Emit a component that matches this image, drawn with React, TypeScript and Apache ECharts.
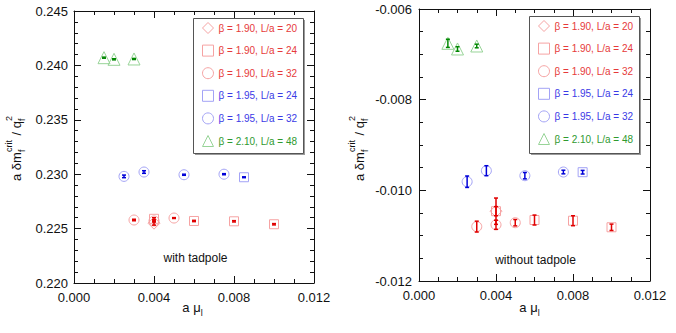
import React, { useEffect, useRef } from "react";
import * as echarts from "echarts";

// ---------- data ----------
const seriesNames = [
  "β = 1.90, L/a = 20",
  "β = 1.90, L/a = 24",
  "β = 1.90, L/a = 32",
  "β = 1.95, L/a = 24",
  "β = 1.95, L/a = 32",
  "β = 2.10, L/a = 48",
];
const xTicks = [0, 0.004, 0.008, 0.012];

// with tadpole (left panel): [a mu_l, value, error]
const tadB190L20 = [[0.004, 0.2255, 0.00018]];
const tadB190L24 = [
  [0.004, 0.2259, 0.0001],
  [0.006, 0.2257, 0.00006],
  [0.008, 0.22567, 0.00006],
  [0.010, 0.2254, 0.00006],
];
const tadB190L32 = [
  [0.003, 0.22579, 0.00007],
  [0.004, 0.2257, 0.0001],
  [0.005, 0.22597, 0.00004],
];
const tadB195L24 = [[0.0085, 0.22972, 0.00004]];
const tadB195L32 = [
  [0.0025, 0.2298, 0.00012],
  [0.0035, 0.2302, 0.00012],
  [0.0055, 0.22995, 0.00005],
  [0.0075, 0.23, 0.00005],
];
const tadB210L48 = [
  [0.0015, 0.24071, 0.00005],
  [0.002, 0.24056, 0.00005],
  [0.003, 0.24059, 0.00005],
];

// without tadpole (right panel)
const noB190L20 = [[0.004, -0.01046, 0.00029]];
const noB190L24 = [
  [0.004, -0.01046, 0.0001],
  [0.006, -0.010655, 0.00011],
  [0.008, -0.01067, 0.00011],
  [0.010, -0.010815, 0.00007],
];
const noB190L32 = [
  [0.003, -0.0108, 0.00012],
  [0.004, -0.01076, 0.0001],
  [0.005, -0.010714, 0.00007],
];
const noB195L24 = [[0.0085, -0.0096, 0.00004]];
const noB195L32 = [
  [0.0025, -0.00981, 0.000126],
  [0.0035, -0.009567, 0.00011],
  [0.0055, -0.009677, 0.00007],
  [0.0075, -0.009596, 0.00004],
];
const noB210L48 = [
  [0.0015, -0.006757, 0.00009],
  [0.002, -0.006882, 0.00005],
  [0.003, -0.006816, 0.00004],
];

// ---------- styles ----------
const FONT = '"Liberation Sans", Arial, Helvetica, sans-serif';
const RED = { text: "#e63a3a", mark: "#f6a3a3", err: "#e00000" };
const BLUE = { text: "#3a3ae6", mark: "#a3a3f6", err: "#0000d8" };
const GREEN = { text: "#2f9a2f", mark: "#98d498", err: "#008800" };

const groups = [
  { name: seriesNames[0], symbol: "diamond", size: 12, c: RED },
  { name: seriesNames[1], symbol: "rect", size: 9, c: RED },
  { name: seriesNames[2], symbol: "circle", size: 10, c: RED },
  { name: seriesNames[3], symbol: "rect", size: 9, c: BLUE },
  { name: seriesNames[4], symbol: "circle", size: 10, c: BLUE },
  { name: seriesNames[5], symbol: "triangle", size: 12, c: GREEN },
];

const panels = [
  {
    data: [tadB190L20, tadB190L24, tadB190L32, tadB195L24, tadB195L32, tadB210L48],
    grid: { left: 74, top: 11, width: 240, height: 272 },
    y: { min: 0.22, max: 0.245, interval: 0.005, minorSplit: 5 },
    label: "with tadpole",
    labelPos: [195.5, 258],
    legend: { left: 193, top: 18, h: 135 },
    yTitle: [16, 148],
    xTitle: [193, 307],
  },
  {
    data: [noB190L20, noB190L24, noB190L32, noB195L24, noB195L32, noB210L48],
    grid: { left: 419, top: 9, width: 231, height: 272 },
    y: { min: -0.012, max: -0.006, interval: 0.002, minorSplit: 4 },
    label: "without tadpole",
    labelPos: [535.5, 260],
    legend: { left: 529, top: 16, h: 137 },
    yTitle: [359, 148],
    xTitle: [530, 307],
  },
];

let measureCtx: CanvasRenderingContext2D | null = null;
function measure(t: string, size: number) {
  if (!measureCtx) measureCtx = document.createElement("canvas").getContext("2d");
  if (!measureCtx) return t.length * size * 0.55;
  measureCtx.font = `${size}px ${FONT}`;
  return measureCtx.measureText(t).width;
}

type Seg = { t?: string; sup?: string; sub?: string };
function buildTitle(segs: Seg[], main: number, small: number, supDy: number, subDy: number) {
  const items: any[] = [];
  let w = 0;
  const txt = (text: string, x: number, y: number, size: number) => ({
    type: "text",
    x,
    y,
    style: { text, fontSize: size, fontFamily: FONT, fill: "#111", align: "left", verticalAlign: "middle" },
  });
  for (const s of segs) {
    if (s.t) {
      items.push(txt(s.t, w, 0, main));
      w += measure(s.t, main);
    } else {
      let ww = 0;
      if (s.sup) {
        items.push(txt(s.sup, w, supDy, small));
        ww = Math.max(ww, measure(s.sup, small));
      }
      if (s.sub) {
        items.push(txt(s.sub, w, subDy, small));
        ww = Math.max(ww, measure(s.sub, small));
      }
      w += ww + 1;
    }
  }
  for (const it of items) it.x -= w / 2;
  return items;
}

export default function App() {
  const ref = useRef<HTMLDivElement>(null);
  useEffect(() => {
    if (!ref.current) return;
    const chart = echarts.init(ref.current, null, { renderer: "svg" });

    const axisLine = { show: true, onZero: false, lineStyle: { color: "#111", width: 1 } };
    const tick = { show: true, inside: true, length: 7, lineStyle: { color: "#111" } };
    const xAxes: any[] = [];
    const yAxes: any[] = [];
    const grids: any[] = [];
    const series: any[] = [];
    const legends: any[] = [];
    const graphics: any[] = [];

    panels.forEach((p, pi) => {
      grids.push({ ...p.grid, containLabel: false });
      const xBase = {
        gridIndex: pi,
        type: "value",
        min: xTicks[0],
        max: xTicks[xTicks.length - 1],
        interval: xTicks[1] - xTicks[0],
        axisLine,
        axisTick: tick,
        minorTick: { show: true, splitNumber: 4, length: 4, lineStyle: { color: "#111" } },
        splitLine: { show: false },
        minorSplitLine: { show: false },
      };
      xAxes.push({
        ...xBase,
        position: "bottom",
        axisLabel: {
          show: true,
          margin: 8,
          fontSize: 13,
          fontFamily: FONT,
          color: "#111",
          formatter: (v: number) => v.toFixed(3),
        },
      });
      xAxes.push({ ...xBase, position: "top", axisLabel: { show: false } });
      const yBase = {
        gridIndex: pi,
        type: "value",
        min: p.y.min,
        max: p.y.max,
        interval: p.y.interval,
        axisLine,
        axisTick: tick,
        minorTick: { show: true, splitNumber: p.y.minorSplit, length: 4, lineStyle: { color: "#111" } },
        splitLine: { show: false },
        minorSplitLine: { show: false },
      };
      yAxes.push({
        ...yBase,
        position: "left",
        axisLabel: {
          show: true,
          margin: pi === 0 ? 6 : 7,
          fontSize: 13,
          fontFamily: FONT,
          color: "#111",
          formatter: (v: number) => v.toFixed(3),
        },
      });
      yAxes.push({ ...yBase, position: "right", axisLabel: { show: false } });

      groups.forEach((g, gi) => {
        const d = p.data[gi];
        series.push({
          type: "scatter",
          name: g.name,
          xAxisIndex: pi * 2,
          yAxisIndex: pi * 2,
          symbol: g.symbol,
          symbolSize: g.size,
          silent: true,
          z: 2,
          itemStyle: { color: "transparent", borderColor: g.c.mark, borderWidth: 1, opacity: 1 },
          emphasis: { disabled: true },
          data: d.map((r) => [r[0], r[1]]),
        });
        series.push({
          type: "custom",
          xAxisIndex: pi * 2,
          yAxisIndex: pi * 2,
          silent: true,
          z: 3,
          dimensions: ["x", "y", "e"],
          encode: { x: 0, y: 1 },
          data: d,
          renderItem: (_params: any, api: any) => {
            const x = api.value(0);
            const y = api.value(1);
            const e = api.value(2);
            const top = api.coord([x, y + e]);
            const bot = api.coord([x, y - e]);
            const cw = 2;
            const st = { stroke: g.c.err, lineWidth: 1.5 };
            return {
              type: "group",
              children: [
                { type: "line", shape: { x1: top[0], y1: top[1], x2: bot[0], y2: bot[1] }, style: st },
                { type: "line", shape: { x1: top[0] - cw, y1: top[1], x2: top[0] + cw, y2: top[1] }, style: st },
                { type: "line", shape: { x1: bot[0] - cw, y1: bot[1], x2: bot[0] + cw, y2: bot[1] }, style: st },
              ],
            };
          },
        });
      });

      legends.push({
        left: p.legend.left,
        top: p.legend.top,
        orient: "vertical",
        padding: [4, 4, 2, 9],
        itemWidth: 11,
        itemHeight: 11,
        itemGap: 10.6,
        selectedMode: false,
        z: 10,
        itemStyle: { borderWidth: 1 },
        textStyle: { fontSize: 10, fontFamily: FONT },
        data: groups.map((g) => ({
          name: g.name,
          icon: g.symbol,
          itemStyle: { color: "transparent", borderColor: g.c.mark, borderWidth: 1 },
          textStyle: { color: g.c.text, fontSize: 10, fontFamily: FONT },
        })),
      });

      graphics.push({
        type: "rect",
        z: 1,
        shape: { x: p.legend.left + 2, y: p.legend.top + 2, width: 110, height: p.legend.h },
        style: { fill: "#9a9a9a" },
      });
      graphics.push({
        type: "rect",
        z: 1,
        shape: { x: p.legend.left + 0.5, y: p.legend.top + 0.5, width: 110, height: p.legend.h },
        style: { fill: "#fff", stroke: "#555", lineWidth: 1 },
      });
      graphics.push({
        type: "text",
        x: p.labelPos[0],
        y: p.labelPos[1],
        style: { text: p.label, fontSize: 12, fontFamily: FONT, fill: "#111", align: "center", verticalAlign: "middle" },
      });
      graphics.push({
        type: "group",
        x: p.yTitle[0],
        y: p.yTitle[1],
        rotation: Math.PI / 2,
        children: buildTitle(
          [{ t: "a δm" }, { sup: "crit", sub: "f" }, { t: " / q" }, { sup: "2", sub: "f" }],
          13,
          9,
          -7,
          6
        ),
      });
      graphics.push({
        type: "group",
        x: p.xTitle[0],
        y: p.xTitle[1],
        children: buildTitle([{ t: "a μ" }, { sub: "l" }], 13, 9, -6, 6),
      });
    });

    chart.setOption({
      animation: false,
      backgroundColor: "#fff",
      grid: grids,
      xAxis: xAxes,
      yAxis: yAxes,
      legend: legends,
      series,
      graphic: graphics,
    });
    return () => chart.dispose();
  }, []);
  return <div ref={ref} style={{ position: "absolute", left: 0, top: 0, width: 676, height: 333 }} />;
}
